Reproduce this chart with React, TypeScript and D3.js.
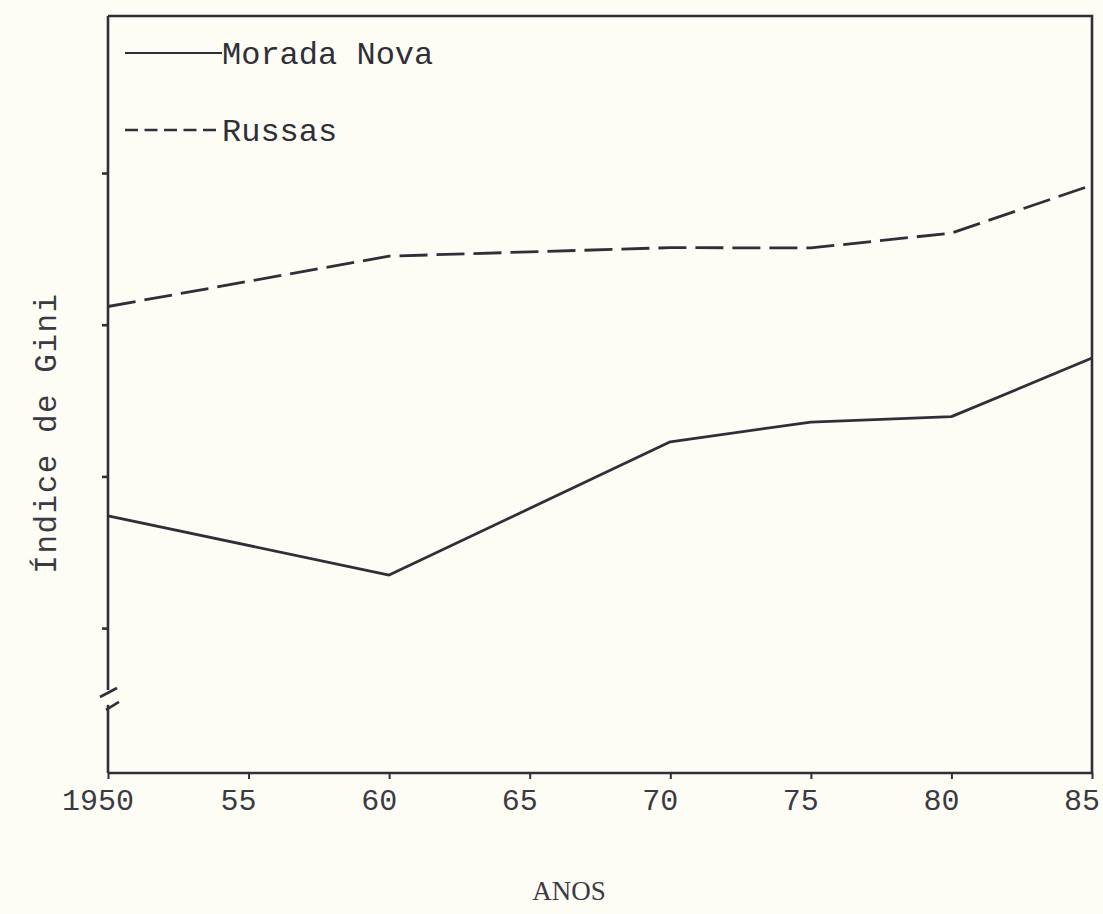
import { useRef, useEffect } from 'react';
import * as d3 from 'd3';

const years = [1950, 1960, 1970, 1975, 1980, 1985];
const moradaNova = [0.637, 0.6175, 0.6614, 0.6679, 0.6697, 0.689];
const russas = [0.706, 0.7226, 0.7254, 0.7253, 0.7302, 0.746];
const xTicks = [1950, 1955, 1960, 1965, 1970, 1975, 1980, 1985];
const xTickLabels = ['1950', '55', '60', '65', '70', '75', '80', '85'];
const yTicks = [0.6, 0.65, 0.7, 0.75];

const W = 1103;
const H = 914;
const ink = '#2f2f38';
const paper = '#fefdf5';
const mono = '"Liberation Mono", "DejaVu Sans Mono", monospace';

function drawChart(el: SVGSVGElement) {
  const svg = d3.select(el);
  svg.selectAll('*').remove();

  const left = 108, right = 1092, top = 16, bottom = 773;

  const x = d3.scaleLinear().domain([1950, 1985]).range([left, right]);
  const y = d3.scaleLinear().domain([0.55224, 0.80175]).range([bottom, top]);

  svg.append('rect').attr('width', W).attr('height', H).attr('fill', paper);

  // frame: top, right, bottom
  const frame = svg.append('g').attr('stroke', ink).attr('stroke-width', 2.6).attr('fill', 'none');
  frame.append('path').attr('d', `M${left},${top}H${right}V${bottom}H${left}`);

  // left axis with a break
  const yBreakHi = y(0.5796);
  const yBreakLo = y(0.5747);
  frame.append('line').attr('x1', left).attr('x2', left).attr('y1', top).attr('y2', yBreakHi);
  frame.append('line').attr('x1', left).attr('x2', left).attr('y1', yBreakLo).attr('y2', bottom);
  frame.append('line').attr('x1', left - 8).attr('x2', left + 9).attr('y1', yBreakHi + 7).attr('y2', yBreakHi - 2);
  frame.append('line').attr('x1', left - 2).attr('x2', left + 11).attr('y1', yBreakLo + 5).attr('y2', yBreakLo - 3);

  const yAxis = svg.append('g')
    .attr('transform', `translate(${left},0)`)
    .call(d3.axisLeft(y).tickValues(yTicks).tickSize(6).tickFormat(() => ''));
  yAxis.select('.domain').remove();
  yAxis.selectAll('line').attr('stroke', ink).attr('stroke-width', 2.6);

  const xAxis = svg.append('g')
    .attr('transform', `translate(0,${bottom})`)
    .call(d3.axisBottom(x).tickValues(xTicks).tickSize(6).tickFormat(() => ''));
  xAxis.select('.domain').remove();
  xAxis.selectAll('line').attr('stroke', ink).attr('stroke-width', 2);

  svg.append('g')
    .selectAll('text')
    .data(xTicks)
    .enter()
    .append('text')
    .attr('x', (d) => x(d) - 10)
    .attr('y', bottom + 37)
    .attr('text-anchor', 'middle')
    .style('font-family', mono)
    .style('font-size', '30px')
    .attr('fill', '#3a3a42')
    .text((_, i) => xTickLabels[i]);

  const line = d3.line<number>()
    .x((_, i) => x(years[i]))
    .y((d) => y(d));

  svg.append('path')
    .datum(moradaNova)
    .attr('d', line)
    .attr('fill', 'none')
    .attr('stroke', ink)
    .attr('stroke-width', 2.8)
    .attr('stroke-linejoin', 'round');

  svg.append('path')
    .datum(russas)
    .attr('d', line)
    .attr('fill', 'none')
    .attr('stroke', ink)
    .attr('stroke-width', 2.8)
    .attr('stroke-dasharray', '28 9');

  // legend
  const lg = svg.append('g');
  lg.append('line').attr('x1', 125).attr('x2', 222).attr('y1', 53).attr('y2', 53)
    .attr('stroke', ink).attr('stroke-width', 2.2);
  lg.append('text').attr('x', 222).attr('y', 64)
    .style('font-family', mono).style('font-size', '32px').attr('fill', ink)
    .text('Morada Nova');
  lg.append('line').attr('x1', 125).attr('x2', 222).attr('y1', 130).attr('y2', 130)
    .attr('stroke', ink).attr('stroke-width', 2.4).attr('stroke-dasharray', '13 6.5');
  lg.append('text').attr('x', 222).attr('y', 141)
    .style('font-family', mono).style('font-size', '32px').attr('fill', ink)
    .text('Russas');

  svg.append('text')
    .attr('transform', `translate(56,433) rotate(-90)`)
    .attr('text-anchor', 'middle')
    .style('font-family', mono)
    .style('font-size', '31px')
    .style('letter-spacing', '1.5px')
    .attr('fill', '#3a3a42')
    .text('Índice de Gini');

  svg.append('text')
    .attr('x', 569)
    .attr('y', 900)
    .attr('text-anchor', 'middle')
    .style('font-family', '"Liberation Serif", serif')
    .style('font-size', '27px')
    .attr('fill', '#3a3a42')
    .text('ANOS');
}

export default function App() {
  const ref = useRef<SVGSVGElement>(null);

  useEffect(() => {
    if (!ref.current) return;
    drawChart(ref.current);
  }, []);

  return (
    <svg
      ref={ref}
      width={W}
      height={H}
      style={{ position: 'absolute', left: 0, top: 0, display: 'block' }}
    />
  );
}
